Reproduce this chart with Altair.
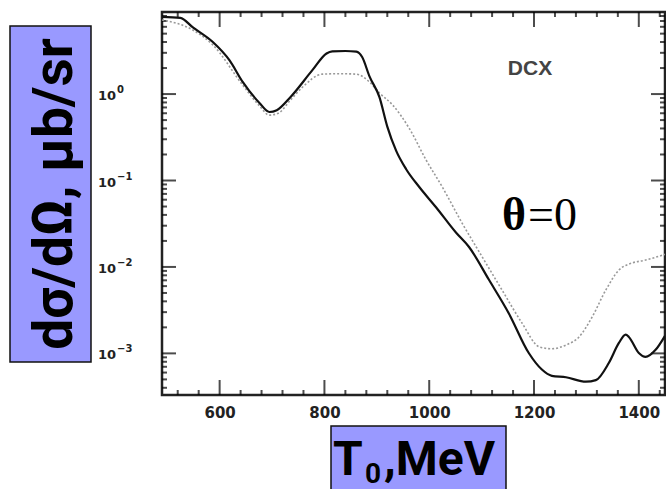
import altair as alt
import pandas as pd

# ---- data ----
energy_solid = [490, 525, 549, 587, 619, 644, 676, 695, 709, 735, 777, 804, 815, 840, 861,
                872, 886, 905, 920, 937, 956, 981, 1013, 1051, 1076, 1114, 1152, 1190, 1215,
                1234, 1261, 1299, 1318, 1343, 1362, 1375, 1381, 1400, 1413, 1432, 1450]
sigma_solid = [7.8, 7.6, 5.9, 4.0, 2.45, 1.38, 0.79, 0.62, 0.65, 0.92, 1.89, 2.95, 3.12, 3.15, 3.1,
               2.68, 1.6, 0.92, 0.42, 0.22, 0.135, 0.084, 0.049, 0.025, 0.017, 0.0071, 0.0029,
               0.00101, 0.00065, 0.00055, 0.00053, 0.00047, 0.00049, 0.00078, 0.00132, 0.00165,
               0.00155, 0.00101, 0.00091, 0.0011, 0.0016]

energy_dotted = [490, 549, 587, 644, 676, 695, 712, 735, 758, 796, 830, 861, 886, 905, 930, 962,
                 994, 1025, 1063, 1101, 1139, 1177, 1210, 1234, 1261, 1286, 1311, 1337, 1362,
                 1387, 1413, 1450]
sigma_dotted = [7.2, 5.5, 3.7, 1.27, 0.73, 0.57, 0.6, 0.85, 1.2, 1.70, 1.72, 1.70, 1.38, 1.03,
                0.75, 0.40, 0.173, 0.084, 0.032, 0.0131, 0.0054, 0.00225, 0.00119, 0.00113,
                0.00125, 0.00155, 0.00264, 0.0054, 0.0092, 0.0111, 0.0120, 0.0140]

x_major = [600, 800, 1000, 1200, 1400]
x_minor = [520, 560, 640, 680, 720, 760, 840, 880, 920, 960, 1040, 1080, 1120, 1160,
           1240, 1280, 1320, 1360, 1440]
y_major = [1.0, 0.1, 0.01, 0.001]
y_exponent = ["0", "−1", "−2", "−3"]
y_minor = [0.0004, 0.0005, 0.0006, 0.0007, 0.0008, 0.0009,
           0.002, 0.003, 0.004, 0.005, 0.006, 0.007, 0.008, 0.009,
           0.02, 0.03, 0.04, 0.05, 0.06, 0.07, 0.08, 0.09,
           0.2, 0.3, 0.4, 0.5, 0.6, 0.7, 0.8, 0.9,
           2.0, 3.0, 4.0, 5.0, 6.0, 7.0, 8.0]

X_DOM = [490, 1450]
Y_DOM = [3.3e-4, 8.9]
W, H = 503, 383

xs = alt.Scale(domain=X_DOM, nice=False, zero=False)
ys = alt.Scale(type="log", domain=Y_DOM, nice=False)

df_s = pd.DataFrame({"E": energy_solid, "S": sigma_solid})
df_d = pd.DataFrame({"E": energy_dotted, "S": sigma_dotted})
df_ylab = pd.DataFrame({"S": y_major, "base": ["10"] * len(y_major), "exp": y_exponent})

x_axis = alt.Axis(values=x_major, format="d", title=None, ticks=False, domain=False, grid=False,
                  labelPadding=10, labelFontSize=15, labelFont="DejaVu Sans",
                  labelFontWeight="bold", labelColor="#222")
y_axis = alt.Axis(values=y_major, labels=False, title=None, ticks=False, domain=False, grid=False)

solid = alt.Chart(df_s).mark_line(color="#111", strokeWidth=2.2, interpolate="monotone", clip=True).encode(
    x=alt.X("E:Q", scale=xs, axis=x_axis),
    y=alt.Y("S:Q", scale=ys, axis=y_axis),
)

dotted = alt.Chart(df_d).mark_line(color="#999", strokeWidth=1.6, strokeDash=[2, 2],
                                   interpolate="monotone", clip=True).encode(
    x=alt.X("E:Q", scale=xs, axis=x_axis),
    y=alt.Y("S:Q", scale=ys, axis=y_axis),
)

ylab_base = alt.Chart(df_ylab).mark_text(font="DejaVu Sans", fontSize=13, fontWeight="bold",
                                         align="right", baseline="middle", dy=2, color="#222").encode(
    y=alt.Y("S:Q", scale=ys, axis=y_axis), x=alt.value(-46), text="base:N")
ylab_exp = alt.Chart(df_ylab).mark_text(font="DejaVu Sans", fontSize=10, fontWeight="bold",
                                        align="left", baseline="middle", dy=-4, dx=1, color="#222").encode(
    y=alt.Y("S:Q", scale=ys, axis=y_axis), x=alt.value(-46), text="exp:N")

# inward ticks on all four sides (same construction as the mark_tick layers that rendered)
tb_major = alt.Chart(pd.DataFrame({"E": x_major})).mark_tick(color="black", thickness=2, size=15).encode(
    x=alt.X("E:Q", scale=xs, axis=x_axis), y=alt.value(H - 7.5))
tb_minor = alt.Chart(pd.DataFrame({"E": x_minor})).mark_tick(color="black", thickness=2, size=5).encode(
    x=alt.X("E:Q", scale=xs, axis=x_axis), y=alt.value(H - 2.5))
tt_major = alt.Chart(pd.DataFrame({"E": x_major})).mark_tick(color="black", thickness=2, size=15).encode(
    x=alt.X("E:Q", scale=xs, axis=x_axis), y=alt.value(7.5))
tt_minor = alt.Chart(pd.DataFrame({"E": x_minor})).mark_tick(color="black", thickness=2, size=5).encode(
    x=alt.X("E:Q", scale=xs, axis=x_axis), y=alt.value(2.5))
tl_major = alt.Chart(pd.DataFrame({"S": y_major})).mark_tick(color="black", thickness=2, size=14).encode(
    y=alt.Y("S:Q", scale=ys, axis=y_axis), x=alt.value(7))
tl_minor = alt.Chart(pd.DataFrame({"S": y_minor})).mark_tick(color="black", thickness=2, size=5).encode(
    y=alt.Y("S:Q", scale=ys, axis=y_axis), x=alt.value(2.5))
tr_major = alt.Chart(pd.DataFrame({"S": y_major})).mark_tick(color="black", thickness=2, size=14).encode(
    y=alt.Y("S:Q", scale=ys, axis=y_axis), x=alt.value(W - 7))
tr_minor = alt.Chart(pd.DataFrame({"S": y_minor})).mark_tick(color="black", thickness=2, size=5).encode(
    y=alt.Y("S:Q", scale=ys, axis=y_axis), x=alt.value(W - 2.5))

one = alt.Data(values=[{}])

ybox = alt.Chart(one).mark_rect(fill="#9999ff", stroke="#111", strokeWidth=1.5).encode(
    x=alt.value(-152), x2=alt.value(-71), y=alt.value(14), y2=alt.value(350))
ytext = alt.Chart(one).mark_text(text="dσ/dΩ, μb/sr", angle=270, font="Roboto", fontSize=55,
                                 fontWeight="bold", align="center", baseline="alphabetic",
                                 color="#000").encode(x=alt.value(-90), y=alt.value(182))

xbox = alt.Chart(one).mark_rect(fill="#9999ff", stroke="#111", strokeWidth=1.5).encode(
    x=alt.value(169), x2=alt.value(344), y=alt.value(414), y2=alt.value(482))
xt1 = alt.Chart(one).mark_text(text="T", font="Roboto", fontSize=48, fontWeight="bold",
                               align="left", baseline="alphabetic", color="#000").encode(
    x=alt.value(171), y=alt.value(463))
xt2 = alt.Chart(one).mark_text(text="0", font="Roboto", fontSize=28, fontWeight="bold",
                               align="left", baseline="alphabetic", color="#000").encode(
    x=alt.value(203), y=alt.value(471))
xt3 = alt.Chart(one).mark_text(text=",MeV", font="Roboto", fontSize=48, fontWeight="bold",
                               align="left", baseline="alphabetic", color="#000").encode(
    x=alt.value(222), y=alt.value(463))

dcx = alt.Chart(one).mark_text(text="DCX", font="Liberation Sans", fontSize=21, fontWeight="bold",
                               align="center", baseline="middle", color="#444").encode(
    x=alt.value(368), y=alt.value(57))
theta = alt.Chart(one).mark_text(text="θ", font="Liberation Serif", fontSize=46, fontWeight="bold",
                                 align="center", baseline="alphabetic", color="#000").encode(
    x=alt.value(352), y=alt.value(218))
eq0 = alt.Chart(one).mark_text(text="=0", font="Liberation Serif", fontSize=46,
                               align="left", baseline="alphabetic", color="#000").encode(
    x=alt.value(366), y=alt.value(218))

chart = alt.layer(tb_major, tb_minor, tt_major, tt_minor, tl_major, tl_minor, tr_major, tr_minor,
                  dotted, solid, ylab_base, ylab_exp, ybox, ytext, xbox, xt1, xt2, xt3,
                  dcx, theta, eq0).properties(
    width=W, height=H,
    padding={"left": 162, "top": 12, "right": 1, "bottom": 94},
    autosize="none",
    background="white",
).configure_view(stroke="#222", strokeWidth=2.5)

chart.save("out.html", embed_options={"renderer": "svg", "actions": False})
